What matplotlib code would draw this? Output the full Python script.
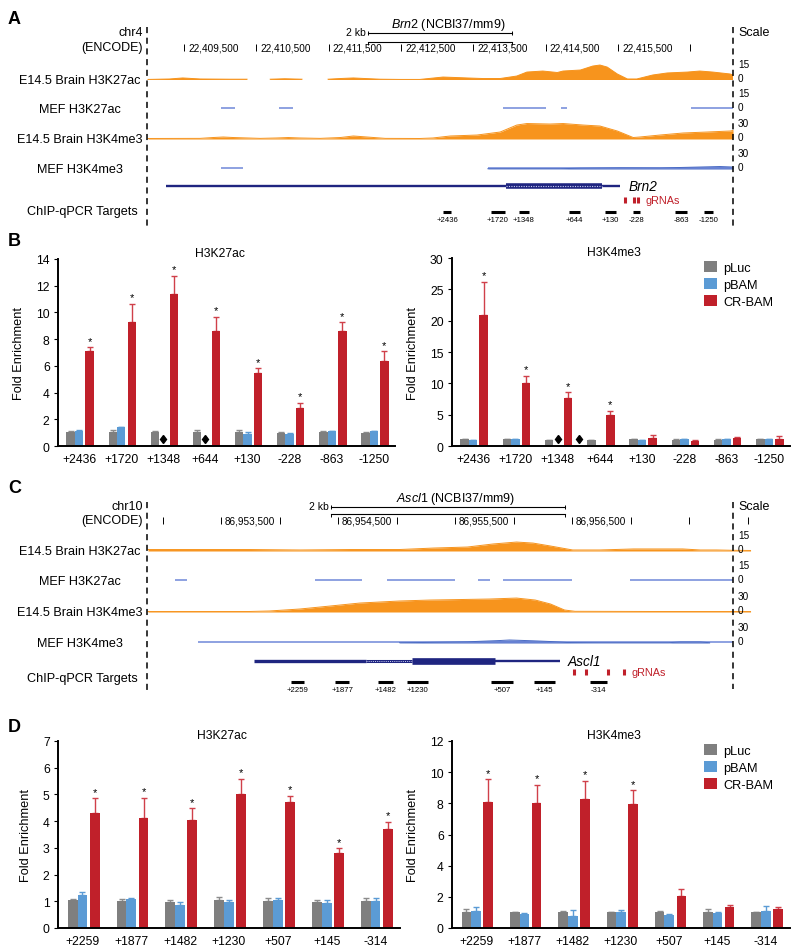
import numpy as np
import matplotlib
matplotlib.use('Agg')
import matplotlib.pyplot as plt
from matplotlib.lines import Line2D

plt.rcParams['font.family'] = ['Liberation Sans', 'DejaVu Sans']
plt.rcParams['mathtext.fontset'] = 'custom'
plt.rcParams['mathtext.rm'] = 'Liberation Sans'
plt.rcParams['mathtext.it'] = 'Liberation Sans:italic'

# ---------------- data: panel A (Brn2 locus, kb from chr4:22,409,000) ----------------
brn2_win_kb = 8.09
brn2_ruler_kb = [0.5, 1.5, 2.5, 3.5, 4.5, 5.5, 6.5, 7.5]
brn2_ruler_lab = ["22,409,500", "22,410,500", "22,411,500", "22,412,500",
                  "22,413,500", "22,414,500", "22,415,500", ""]
brn2_bar_kb = 3.04

brn2_e14_k27_kb = [0.00, 0.30, 0.48, 0.72, 1.13, 1.37, 1.41, 1.66, 1.69, 1.89, 2.13, 2.16, 2.46, 2.49,
                   2.66, 2.84, 3.00, 3.21, 3.49, 3.76, 4.08, 4.25, 4.41, 4.63, 4.87, 5.10, 5.24, 5.46,
                   5.66, 5.74, 5.98, 6.15, 6.25, 6.35, 6.49, 6.63, 6.76, 6.98, 7.18, 7.46, 7.63, 7.81,
                   8.05, 8.09]
brn2_e14_k27 = [0.5, 0.9, 1.8, 0.9, 0.7, 0.7, 0, 0, 0.7, 1.1, 0.7, 0, 0, 0.7,
                1.3, 1.8, 1.3, 0.7, 0.5, 0.5, 2.6, 2.2, 1.8, 1.3, 1.3, 3.5, 7.0, 7.9,
                6.6, 7.9, 8.8, 12.3, 13.2, 11.4, 5.3, 0.9, 0.9, 4.4, 6.2, 7.0, 7.9, 7.0,
                5.3, 4.4]
brn2_mef_k27_start = [1.01, 1.81, 4.91, 5.71, 7.51]
brn2_mef_k27_end = [1.20, 2.01, 5.50, 5.80, 8.09]
brn2_e14_k4_kb = [0, 0.72, 0.90, 1.04, 1.18, 1.55, 1.78, 1.94, 2.10, 2.38, 2.66, 2.84, 3.03, 3.28,
                  3.76, 3.94, 4.18, 4.55, 4.87, 5.10, 5.24, 5.56, 5.74, 6.02, 6.25, 6.49, 6.71, 6.80,
                  7.08, 7.40, 7.73, 8.05, 8.09]
brn2_e14_k4 = [0.9, 1.1, 2.6, 3.5, 2.6, 1.1, 1.8, 2.6, 1.8, 1.1, 2.6, 5.3, 3.5, 1.1,
               0.9, 1.8, 5.3, 7.0, 12.3, 24.6, 27.3, 26.4, 27.3, 24.6, 22.9, 14.1, 2.6, 3.5,
               7.0, 10.6, 12.3, 14.1, 15.0]
brn2_mef_k4_start = [1.01, 4.70]
brn2_mef_k4_end = [1.31, 8.09]
brn2_mef_k4_kb = [4.70, 5.70, 5.98, 6.53, 7.08, 7.63, 7.91, 8.09]
brn2_mef_k4 = [0.5, 0.5, 1.4, 2.1, 1.8, 3.5, 4.4, 3.5]
brn2_gene_start = [0.25, 4.95]
brn2_gene_end = [6.53, 6.28]
brn2_gene_type = ["line", "hatchcds"]
brn2_grna_kb = [6.60, 6.72, 6.78]
brn2_tgt_start = [4.08, 4.74, 5.13, 5.82, 6.32, 6.71, 7.29, 7.69]
brn2_tgt_end = [4.19, 4.94, 5.27, 5.98, 6.47, 6.80, 7.46, 7.81]

# ---------------- data: panel C (Ascl1 locus, kb from chr10:86,952,876) ----------------
ascl1_win_kb = 5.0
ascl1_ruler_kb = [0.124, 0.624, 1.124, 1.624, 2.124, 2.624, 3.124, 3.624, 4.124, 4.624, 5.124]
ascl1_ruler_lab = ["", "86,953,500", "", "86,954,500", "", "86,955,500", "", "86,956,500", "", "", ""]
ascl1_bar_kb = 1.56

ascl1_e14_k27_kb = [0, 0.87, 1.30, 1.73, 2.15, 2.44, 2.73, 2.95, 3.15, 3.29, 3.44, 3.58, 3.63, 3.86,
                    4.15, 4.29, 4.57, 4.72, 4.86, 5.0, 5.15]
ascl1_e14_k27 = [1.3, 1.3, 0.9, 1.3, 1.3, 2.6, 3.5, 6.2, 7.9, 7.0, 4.4, 1.8, 0.9, 0.9,
                 1.8, 1.8, 1.8, 0.9, 0.9, 0.6, 0.45]
ascl1_mef_k27_start = [0.23, 1.43, 2.04, 2.82, 3.03, 4.12]
ascl1_mef_k27_end = [0.33, 1.83, 2.62, 2.92, 3.62, 5.0]
ascl1_e14_k4_kb = [0, 0.87, 1.04, 1.30, 1.56, 1.81, 2.15, 2.41, 2.67, 2.92, 3.15, 3.31, 3.44, 3.56,
                   3.65, 4.29, 5.0, 5.15]
ascl1_e14_k4 = [0.9, 0.9, 1.8, 5.3, 10.6, 15.8, 19.4, 21.1, 22.0, 22.9, 24.6, 21.1, 14.1, 3.5,
                1.2, 0.9, 0.9, 0.9]
ascl1_mef_k4_start = [0.43]
ascl1_mef_k4_end = [5.0]
ascl1_mef_k4_kb = [2.15, 2.35, 2.73, 3.01, 3.09, 3.29, 3.44, 3.58, 3.86, 4.45, 4.55, 4.72, 4.80]
ascl1_mef_k4 = [0.5, 0.9, 2.1, 4.4, 5.3, 3.9, 2.6, 0.9, 0.5, 0.5, 1.8, 1.8, 0.5]
ascl1_gene_start = [0.91, 1.86, 2.26, 2.97]
ascl1_gene_end = [1.86, 2.26, 2.97, 3.52]
ascl1_gene_type = ["utr", "hatch", "cds", "line"]
ascl1_grna_kb = [3.64, 3.74, 3.93, 4.07]
ascl1_tgt_start = [1.22, 1.60, 1.97, 2.21, 2.93, 3.30, 3.78]
ascl1_tgt_end = [1.33, 1.72, 2.09, 2.39, 3.12, 3.48, 3.92]

# ---------------- data: panel B (Brn2 ChIP-qPCR) ----------------
b_sites = ["+2436", "+1720", "+1348", "+644", "+130", "-228", "-863", "-1250"]
b_k27_pluc = [1.05, 1.05, 1.05, 1.05, 1.05, 1.0, 1.05, 1.0]
b_k27_pluc_err = [0.05, 0.15, 0.07, 0.15, 0.15, 0.03, 0.07, 0.05]
b_k27_pbam = [1.15, 1.4, np.nan, np.nan, 0.88, 0.93, 1.12, 1.1]
b_k27_pbam_err = [0.06, 0.04, 0, 0, 0.17, 0.02, 0.04, 0.04]
b_k27_cr = [7.08, 9.3, 11.35, 8.58, 5.5, 2.88, 8.58, 6.38]
b_k27_cr_err = [0.3, 1.33, 1.38, 1.1, 0.33, 0.37, 0.67, 0.7]
b_k27_star = [1, 1, 1, 1, 1, 1, 1, 1]
b_k27_dia = [2, 3]

b_k4_pluc = [1.1, 1.1, 1.0, 1.0, 1.1, 1.0, 1.0, 1.1]
b_k4_pluc_err = [0.05, 0.05, 0.03, 0.03, 0.05, 0.05, 0.05, 0.05]
b_k4_pbam = [1.0, 1.1, np.nan, np.nan, 0.9, 1.1, 1.1, 1.1]
b_k4_pbam_err = [0.03, 0.05, 0, 0, 0.1, 0.05, 0.05, 0.05]
b_k4_cr = [20.9, 10.0, 7.6, 4.9, 1.33, 0.8, 1.23, 1.17]
b_k4_cr_err = [5.3, 1.2, 1.0, 0.7, 0.43, 0.16, 0.16, 0.38]
b_k4_star = [1, 1, 1, 1, 0, 0, 0, 0]
b_k4_dia = [2, 2.5]

# ---------------- data: panel D (Ascl1 ChIP-qPCR) ----------------
d_sites = ["+2259", "+1877", "+1482", "+1230", "+507", "+145", "-314"]
d_k27_pluc = [1.03, 1.02, 0.98, 1.03, 1.02, 0.98, 1.02]
d_k27_pluc_err = [0.05, 0.05, 0.05, 0.13, 0.1, 0.06, 0.1]
d_k27_pbam = [1.25, 1.07, 0.85, 0.98, 1.06, 0.94, 1.02]
d_k27_pbam_err = [0.1, 0.05, 0.12, 0.06, 0.05, 0.1, 0.1]
d_k27_cr = [4.32, 4.12, 4.04, 5.02, 4.70, 2.82, 3.72]
d_k27_cr_err = [0.53, 0.75, 0.44, 0.56, 0.25, 0.17, 0.25]
d_k27_star = [1, 1, 1, 1, 1, 1, 1]

d_k4_pluc = [1.05, 1.0, 1.0, 1.0, 1.0, 1.0, 1.0]
d_k4_pluc_err = [0.2, 0.05, 0.12, 0.05, 0.12, 0.2, 0.05]
d_k4_pbam = [1.12, 0.92, 0.78, 1.05, 0.85, 0.98, 1.1]
d_k4_pbam_err = [0.22, 0.07, 0.35, 0.12, 0.05, 0.03, 0.3]
d_k4_cr = [8.06, 8.0, 8.3, 7.95, 2.03, 1.34, 1.22]
d_k4_cr_err = [1.48, 1.18, 1.14, 0.9, 0.5, 0.15, 0.1]
d_k4_star = [1, 1, 1, 1, 0, 0, 0]

ORANGE = '#f7941d'
LBLUE = '#6f88d8'
DBLUE = '#4a6bc4'
NAVY = '#1f2580'
RED = '#c0202a'
GRAY = '#7f7f7f'
BLUE = '#5b9bd5'

W, H = 800, 953
fig = plt.figure(figsize=(8, 9.53), dpi=100)


def px_axes(x0, y0, x1, y1):
    return fig.add_axes([x0 / W, 1 - y1 / H, (x1 - x0) / W, (y1 - y0) / H])


def ftext(x, y, s, **kw):
    return fig.text(x / W, 1 - y / H, s, **kw)


def vdash(x, y0, y1):
    fig.add_artist(Line2D([x / W] * 2, [1 - y0 / H, 1 - y1 / H], color='k', lw=1.1, ls=(0, (4, 3))))


def browser(rows, chrom, gene_lab, win_kb, ruler_kb, ruler_lab, bar_kb, bar2_dy, tracks,
            g_start, g_end, g_type, gene_name, grna_kb, t_start, t_end, t_lab, dash):
    y_chr, y_enc, bases, y_gene, y_grna, y_tlab, y_tbar = rows
    L, R = 148, 733
    pxkb = (R - L) / win_kb

    ftext(143, y_chr, chrom, ha='right', va='center', fontsize=9)
    ftext(143, y_enc, '(ENCODE)', ha='right', va='center', fontsize=9)
    ftext(738, y_chr, 'Scale', ha='left', va='center', fontsize=9)

    # ruler + scale bar
    ax = px_axes(L, y_chr - 14, R, y_enc + 8)
    ax.set_xlim(0, win_kb)
    ax.set_ylim(y_enc + 8, y_chr - 14)
    ax.axis('off')
    for k, lab in zip(ruler_kb, ruler_lab):
        ax.vlines(k, y_enc - 3, y_enc + 4, color='k', lw=0.7, clip_on=False)
        if lab:
            ax.text(k + 4 / pxkb, y_enc + 0.5, lab, ha='left', va='center', fontsize=7.2)
    b0, b1 = bar_kb, bar_kb + 2
    ax.plot([b0, b1], [y_chr + 1] * 2, color='k', lw=0.8)
    ax.vlines([b0, b1], y_chr - 1, y_chr + 3, color='k', lw=0.7)
    ax.text(b0 - 2 / pxkb, y_chr + 0.5, '2 kb', ha='right', va='center', fontsize=7.5)
    ax.text((b0 + b1) / 2 + 8 / pxkb, y_chr - 8, gene_lab, ha='center', va='center', fontsize=9)
    ax.plot([b0, b1], [y_chr + 1 + bar2_dy] * 2, color='k', lw=0.8)
    ax.vlines([b0, b1], y_chr + 1 + bar2_dy, y_chr + 4 + bar2_dy, color='k', lw=0.7)

    # signal tracks
    for (name, base, scale, segs, pos, vals, col) in zip(*tracks):
        ftext(80, base, name, ha='center', va='center', fontsize=9.1)
        ftext(738, base - 16, str(scale), ha='left', va='center', fontsize=7.2)
        ftext(738, base - 2, '0', ha='left', va='center', fontsize=7.2)
        ax = px_axes(L, base - 17, R, base)
        ax.set_xlim(0, win_kb)
        ax.set_ylim(0, scale)
        ax.axis('off')
        if segs is not None:
            ax.hlines([scale * 0.03] * len(segs[0]), segs[0], segs[1], color=LBLUE, lw=1.1)
        if pos is not None:
            v = np.array(vals, dtype=float)
            v = np.where(v > 0, v, np.nan)
            ax.fill_between(pos, 0, v, color=col, lw=0, clip_on=False)
            ax.plot(pos, v, color=col, lw=0.7, clip_on=False)

    # gene model
    ax = px_axes(L, y_gene - 6, R, y_gene + 6)
    ax.set_xlim(0, win_kb)
    ax.set_ylim(-1, 1)
    ax.axis('off')
    for s, e, t in zip(g_start, g_end, g_type):
        if t == 'line':
            ax.plot([s, e], [0, 0], color=NAVY, lw=1.7, solid_capstyle='butt')
        elif t == 'utr':
            ax.plot([s, e], [0, 0], color=NAVY, lw=2.4, solid_capstyle='butt')
        elif t == 'cds':
            ax.plot([s, e], [0, 0], color=NAVY, lw=4.8, solid_capstyle='butt')
        elif t == 'hatch':
            ax.plot([s, e], [0, 0], color=NAVY, lw=2.2, solid_capstyle='butt')
            ax.plot([s, e], [0, 0], color='#c8ccf0', lw=0.7, ls=(0, (1, 1.2)))
        elif t == 'hatchcds':
            ax.plot([s, e], [0, 0], color=NAVY, lw=4.0, solid_capstyle='butt')
            ax.plot([s, e], [0, 0], color='#c8ccf0', lw=0.8, ls=(0, (1, 1.2)))
    ax.text(max(g_end) + 8 / pxkb, 0, gene_name, ha='left', va='center', fontsize=9.8,
            style='italic')

    # gRNAs
    ax = px_axes(L, y_grna - 4, R, y_grna + 4)
    ax.set_xlim(0, win_kb)
    ax.set_ylim(-1.3, 1.3)
    ax.axis('off')
    ax.vlines(grna_kb, -1, 1, color=RED, lw=2.2)
    ax.text(max(grna_kb) + 7 / pxkb, 0, 'gRNAs', color=RED, ha='left', va='center', fontsize=7.8)

    # ChIP-qPCR targets
    ftext(82, y_tlab, 'ChIP-qPCR Targets', ha='center', va='center', fontsize=9.1)
    ax = px_axes(L, y_tbar - 4, R, y_tbar + 13)
    ax.set_xlim(0, win_kb)
    ax.set_ylim(13, -4)
    ax.axis('off')
    ax.hlines([0] * len(t_start), t_start, t_end, color='k', lw=2.2)
    for s, e, lab in zip(t_start, t_end, t_lab):
        ax.text((s + e) / 2, 8, lab, ha='center', va='center', fontsize=5.6)

    vdash(147, dash[0], dash[1])
    vdash(733, dash[0], dash[1] - 2)


def bar_panel(box, sites, series, stars, ymax, ystep, dia_x, dia_y, title, legend):
    ax = px_axes(*box)
    x = np.arange(len(sites))
    offs = [-0.2, 0.0, 0.25]
    for (vals, errs, col, ecol, lab), off in zip(series, offs):
        vals = np.array(vals, dtype=float)
        ax.bar(x + off, np.nan_to_num(vals), 0.2, color=col, label=lab, zorder=2)
        ok = ~np.isnan(vals)
        ax.errorbar((x + off)[ok], vals[ok], yerr=[np.zeros(ok.sum()), np.array(errs)[ok]],
                    fmt='none', ecolor=ecol, elinewidth=1, capsize=2.5, capthick=1, zorder=1)
    cr, cr_err = np.array(series[2][0]), np.array(series[2][1])
    for i, s in enumerate(stars):
        if s:
            ax.text(x[i] + offs[2], cr[i] + cr_err[i] + ymax * 0.008, '*', ha='center',
                    va='bottom', fontsize=8)
    ax.plot(dia_x, [dia_y] * len(dia_x), ls='none', marker='d', color='k', ms=4.5)
    ax.set_xlim(-0.5, len(sites) - 0.5)
    ax.set_ylim(0, ymax)
    ax.set_yticks(np.arange(0, ymax + 0.01, ystep))
    ax.set_xticks(x)
    ax.set_xticklabels(sites, fontsize=8.7)
    ax.tick_params(axis='x', length=0, pad=5)
    ax.tick_params(axis='y', labelsize=8.7, length=3, width=0.8, pad=3)
    for sp in ['top', 'right']:
        ax.spines[sp].set_visible(False)
    for sp in ['left', 'bottom']:
        ax.spines[sp].set_linewidth(1.4)
    ax.set_ylabel('Fold Enrichment', fontsize=9.2, labelpad=8)
    ax.text(0.48, 1.03, title, transform=ax.transAxes, ha='center', va='center', fontsize=8.7)
    if legend:
        ax.legend(loc='upper left', bbox_to_anchor=(0.745, 0.985), frameon=False, fontsize=9.2,
                  handlelength=1.0, handleheight=1.0, handletextpad=0.5, labelspacing=0.3,
                  borderaxespad=0, borderpad=0)
    return ax


# panel letters
for lab, y in [('A', 20), ('B', 242), ('C', 489), ('D', 727)]:
    ftext(8, y, lab, ha='left', va='center', fontsize=13, fontweight='bold')

track_names = ['E14.5 Brain H3K27ac', 'MEF H3K27ac', 'E14.5 Brain H3K4me3', 'MEF H3K4me3']
track_scales = [15, 15, 30, 30]
track_cols = [ORANGE, LBLUE, ORANGE, DBLUE]

browser((33, 48, [81, 110, 140, 170], 187, 201, 212, 213), 'chr4',
        r'$\it{Brn2}$ (NCBI37/mm9)', brn2_win_kb, brn2_ruler_kb, brn2_ruler_lab, brn2_bar_kb, 9,
        (track_names, [81, 110, 140, 170], track_scales,
         [None, (brn2_mef_k27_start, brn2_mef_k27_end), None, (brn2_mef_k4_start, brn2_mef_k4_end)],
         [brn2_e14_k27_kb, None, brn2_e14_k4_kb, brn2_mef_k4_kb],
         [brn2_e14_k27, None, brn2_e14_k4, brn2_mef_k4], track_cols),
        brn2_gene_start, brn2_gene_end, brn2_gene_type, 'Brn2', brn2_grna_kb,
        brn2_tgt_start, brn2_tgt_end, b_sites, (28, 230))

browser((507, 521, [552, 582, 613, 644], 662, 673, 679, 683), 'chr10',
        r'$\it{Ascl1}$ (NCBI37/mm9)', ascl1_win_kb, ascl1_ruler_kb, ascl1_ruler_lab, ascl1_bar_kb, 7,
        (track_names, [552, 582, 613, 644], track_scales,
         [None, (ascl1_mef_k27_start, ascl1_mef_k27_end), None, (ascl1_mef_k4_start, ascl1_mef_k4_end)],
         [ascl1_e14_k27_kb, None, ascl1_e14_k4_kb, ascl1_mef_k4_kb],
         [ascl1_e14_k27, None, ascl1_e14_k4, ascl1_mef_k4], track_cols),
        ascl1_gene_start, ascl1_gene_end, ascl1_gene_type, 'Ascl1', ascl1_grna_kb,
        ascl1_tgt_start, ascl1_tgt_end, d_sites, (503, 692))

bar_panel((58, 260, 395, 447), b_sites,
          [(b_k27_pluc, b_k27_pluc_err, GRAY, '#8c8c8c', 'pLuc'),
           (b_k27_pbam, b_k27_pbam_err, BLUE, BLUE, 'pBAM'),
           (b_k27_cr, b_k27_cr_err, RED, '#d0404a', 'CR-BAM')],
          b_k27_star, 14, 2, b_k27_dia, 0.5, 'H3K27ac', False)
bar_panel((452, 259, 790, 447), b_sites,
          [(b_k4_pluc, b_k4_pluc_err, GRAY, '#8c8c8c', 'pLuc'),
           (b_k4_pbam, b_k4_pbam_err, BLUE, BLUE, 'pBAM'),
           (b_k4_cr, b_k4_cr_err, RED, '#d0404a', 'CR-BAM')],
          b_k4_star, 30, 5, b_k4_dia, 1.1, 'H3K4me3', True)
bar_panel((58, 742, 400, 929), d_sites,
          [(d_k27_pluc, d_k27_pluc_err, GRAY, '#8c8c8c', 'pLuc'),
           (d_k27_pbam, d_k27_pbam_err, BLUE, BLUE, 'pBAM'),
           (d_k27_cr, d_k27_cr_err, RED, '#d0404a', 'CR-BAM')],
          d_k27_star, 7, 1, [], 0, 'H3K27ac', False)
bar_panel((452, 742, 790, 929), d_sites,
          [(d_k4_pluc, d_k4_pluc_err, GRAY, '#8c8c8c', 'pLuc'),
           (d_k4_pbam, d_k4_pbam_err, BLUE, BLUE, 'pBAM'),
           (d_k4_cr, d_k4_cr_err, RED, '#d0404a', 'CR-BAM')],
          d_k4_star, 12, 2, [], 0, 'H3K4me3', True)

fig.savefig('out.png', dpi=100)
